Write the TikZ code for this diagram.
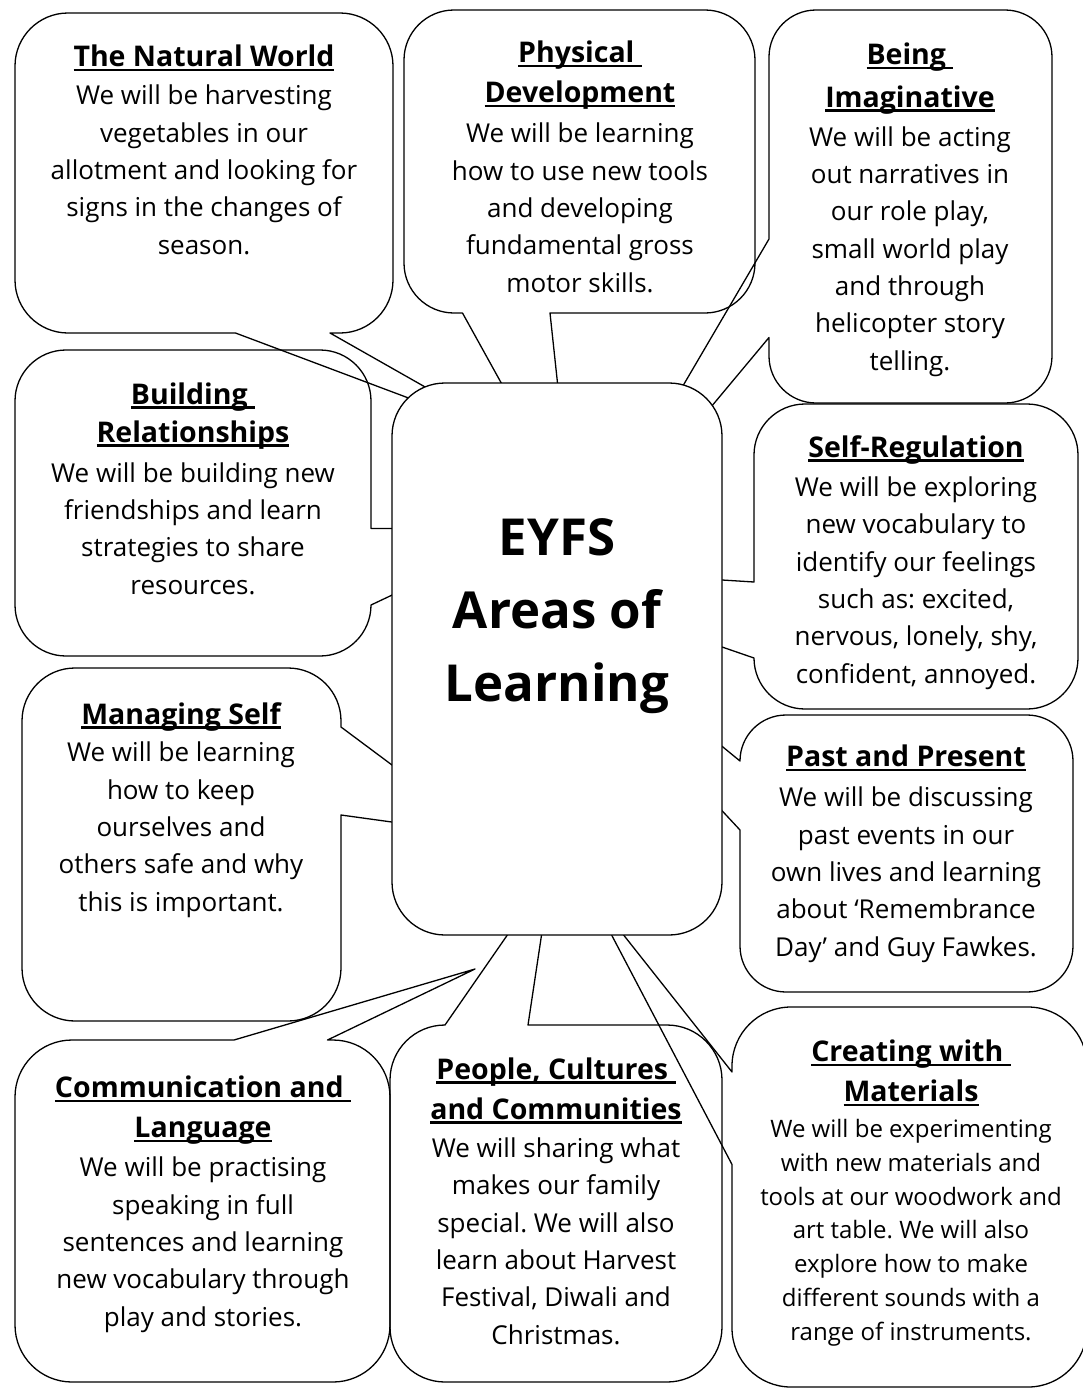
\documentclass[tikz,border=0pt]{standalone}
\usepackage{fontspec}
\setmainfont{Open Sans}
\frenchspacing
\newcommand\hdul[1]{\setbox0=\hbox{#1}\rlap{\rule[-4.5pt]{\wd0}{2.6pt}}\box0}
\newcommand\ttl[1]{{\fontsize{28.5}{37.3}\selectfont\bfseries\hdul{#1}}}
\begin{document}
\begin{tikzpicture}[x=1pt,y=-1pt,
  bub/.style={draw=black, line width=1.3pt, line join=round},
  txt/.style={align=center, inner sep=0pt, anchor=base, font=\fontsize{26}{37.3}\selectfont},
  smalltxt/.style={txt, font=\fontsize{24}{33.7}\selectfont},
  centerbox/.style={draw=black, fill=white, line width=1.3pt, rounded corners=53pt,
    minimum width=330pt, minimum height=552pt, inner sep=0pt},
  centertxt/.style={align=center, inner sep=0pt, anchor=base, font=\fontsize{51}{73}\selectfont\bfseries}]
\useasboundingbox (0,0) rectangle (1083,1390);
\clip (0,0) rectangle (1083,1390);
\fill[white] (0,0) rectangle (1083,1390);

% The Natural World
\draw[bub] (68,13) -- (340,13) arc[start angle=-90,end angle=0,radius=53] -- (393,280)
  arc[start angle=0,end angle=90,radius=53] -- (330,333) -- (515,438) -- (235.5,333) -- (68,333)
  arc[start angle=90,end angle=180,radius=53] -- (15,66) arc[start angle=180,end angle=270,radius=53] -- cycle;
% Physical Development
\draw[bub] (454,10) -- (705,10) arc[start angle=-90,end angle=0,radius=50] -- (755,263)
  arc[start angle=0,end angle=90,radius=50] -- (550,313) -- (571,509) -- (462.5,313) -- (454,313)
  arc[start angle=90,end angle=180,radius=50] -- (404,60) arc[start angle=180,end angle=270,radius=50] -- cycle;
% Being Imaginative
\draw[bub] (816,10) -- (1005,10) arc[start angle=-90,end angle=0,radius=47] -- (1052,356)
  arc[start angle=0,end angle=90,radius=47] -- (816,403) arc[start angle=90,end angle=180,radius=47]
  -- (769,337.5) -- (575,570) -- (769,239) -- (769,57) arc[start angle=180,end angle=270,radius=47] -- cycle;
% Building Relationships
\draw[bub] (66,350) -- (320,350) arc[start angle=-90,end angle=0,radius=51] -- (371,528.5)
  -- (533,528.5) -- (371,605) arc[start angle=0,end angle=90,radius=51] -- (66,656)
  arc[start angle=90,end angle=180,radius=51] -- (15,401) arc[start angle=180,end angle=270,radius=51] -- cycle;
% Self-Regulation
\draw[bub] (805,404) -- (1027,404) arc[start angle=-90,end angle=0,radius=51] -- (1078,658)
  arc[start angle=0,end angle=90,radius=51] -- (805,709) arc[start angle=90,end angle=180,radius=51]
  -- (484,565) -- (754,582) -- (754,455) arc[start angle=180,end angle=270,radius=51] -- cycle;
% Managing Self
\draw[bub] (75,668) -- (288,668) arc[start angle=-90,end angle=0,radius=53] -- (341,727)
  -- (486,835) -- (341,815) -- (341,968) arc[start angle=0,end angle=90,radius=53] -- (75,1021)
  arc[start angle=90,end angle=180,radius=53] -- (22,721) arc[start angle=180,end angle=270,radius=53] -- cycle;
% Past and Present
\draw[bub] (786,715) -- (1027,715) arc[start angle=-90,end angle=0,radius=46] -- (1073,946)
  arc[start angle=0,end angle=90,radius=46] -- (786,992) arc[start angle=90,end angle=180,radius=46]
  -- (740,830) -- (470,540) -- (740,761) arc[start angle=180,end angle=270,radius=46] -- cycle;
% Communication and Language
\draw[bub] (72,1040) -- (234,1040) -- (475,969) -- (327.5,1040) -- (333,1040)
  arc[start angle=-90,end angle=0,radius=57] -- (390,1325) arc[start angle=0,end angle=90,radius=57]
  -- (72,1382) arc[start angle=90,end angle=180,radius=57] -- (15,1097)
  arc[start angle=180,end angle=270,radius=57] -- cycle;
% People, Cultures and Communities
\draw[bub] (445,1025) -- (551,872) -- (528,1025) -- (667,1025) arc[start angle=-90,end angle=0,radius=55]
  -- (722,1327) arc[start angle=0,end angle=90,radius=55] -- (445,1382)
  arc[start angle=90,end angle=180,radius=55] -- (390,1080) arc[start angle=180,end angle=270,radius=55] -- cycle;
% Creating with Materials
\draw[bub] (791,1007) -- (1028,1007) arc[start angle=-90,end angle=0,radius=59] -- (1087,1328)
  arc[start angle=0,end angle=90,radius=59] -- (791,1387) arc[start angle=90,end angle=180,radius=59]
  -- (732,1164.5) -- (588,890) -- (732,1072) -- (732,1066) arc[start angle=180,end angle=270,radius=59] -- cycle;

% centre
\node[centerbox] (centre) at (557,659) {};
\node[centertxt] (centretext) at (557,701) {EYFS\\Areas of\\Learning};

% texts (anchored at the baseline of the last line)
\node[txt] (tNW) at (204,254) {\ttl{The Natural World}\\[0.7pt]
  We will be harvesting\\vegetables in our\\allotment and looking for\\signs in the changes of\\season.};
\node[txt] (tPD) at (580,292) {\ttl{Physical\ }\\[2.7pt]\ttl{Development}\\[2.7pt]
  We will be learning\\how to use new tools\\and developing\\fundamental gross\\motor skills.};
\node[txt] (tBI) at (910,370) {\ttl{Being\ }\\[5pt]\ttl{Imaginative}\\[1.7pt]
  We will be acting\\out narratives in\\our role play,\\small world play\\and through\\helicopter story\\telling.};
\node[txt] (tBR) at (193,594) {\ttl{Building\ }\\[0.7pt]\ttl{Relationships}\\[2.7pt]
  We will be building new\\friendships and learn\\strategies to share\\resources.};
\node[txt] (tSR) at (916,683) {\ttl{Self-Regulation}\\[1.7pt]
  We will be exploring\\new vocabulary to\\identify our feelings\\such as: excited,\\nervous, lonely, shy,\\confident, annoyed.};
\node[txt] (tMS) at (181,911) {\ttl{Managing Self}\\[0pt]
  We will be learning\\how to keep\\ourselves and\\others safe and why\\this is important.};
\node[txt] (tPP) at (906,956) {\ttl{Past and Present}\\[2.7pt]
  We will be discussing\\past events in our\\own lives and learning\\about ‘Remembrance\\Day’ and Guy Fawkes.};
\node[txt] (tCL) at (203,1326) {\ttl{Communication and\ }\\[2.7pt]\ttl{Language}\\[1.7pt]
  We will be practising\\speaking in full\\sentences and learning\\new vocabulary through\\play and stories.};
\node[txt] (tPC) at (556,1344) {\ttl{People, Cultures\ }\\[2.7pt]\ttl{and Communities}\\[0.7pt]
  We will sharing what\\makes our family\\special. We will also\\learn about Harvest\\Festival, Diwali and\\Christmas.};
\node[smalltxt] (tCM) at (911,1340) {\ttl{Creating with\ }\\[6.3pt]\ttl{Materials}\\[2.3pt]
  We will be experimenting\\with new materials and\\tools at our woodwork and\\art table. We will also\\explore how to make\\different sounds with a\\range of instruments.};
\end{tikzpicture}
\end{document}
